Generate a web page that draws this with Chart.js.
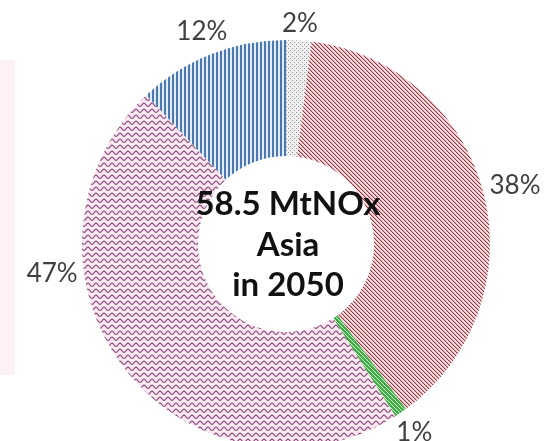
<!DOCTYPE html>
<html>
<head>
<meta charset="utf-8">
<script src="https://cdn.jsdelivr.net/npm/chart.js@4.4.0/dist/chart.umd.min.js"></script>
<style>
  html, body { margin: 0; padding: 0; background: #fff; overflow: hidden; }
  #wrap { position: relative; width: 548px; height: 441px; }
</style>
</head>
<body>
<div id="wrap"><canvas id="myChart" width="548" height="441"></canvas></div>
<script>
(() => {
  'use strict'

  // NOx emission shares, clockwise from 12 o'clock
  const sectors = ['Sector 1', 'Sector 2', 'Sector 3', 'Sector 4', 'Sector 5']
  const shares = [2, 38, 1, 47, 12]
  const centerLines = ['58.5 MtNOx', 'Asia', 'in 2050']

  const canvas = document.getElementById('myChart')
  const ctx = canvas.getContext('2d')

  // small repeating tiles used as hatch fills
  function tile(w, h, draw) {
    const c = document.createElement('canvas')
    c.width = w
    c.height = h
    draw(c.getContext('2d'), w, h)
    return ctx.createPattern(c, 'repeat')
  }

  const dots = tile(4, 4, (g) => {
    g.fillStyle = '#f1f1f1'
    g.fillRect(0, 0, 4, 4)
    g.fillStyle = '#8f8f8f'
    g.fillRect(0, 0, 1, 1)
    g.fillRect(2, 2, 1, 1)
  })

  const redHatch = tile(4, 4, (g) => {
    g.fillStyle = '#f9e0e0'
    g.fillRect(0, 0, 4, 4)
    for (let i = 0; i < 4; i++) {
      g.fillStyle = '#9b2f42'
      g.fillRect(i, i, 1, 1)
      g.fillStyle = '#e0a9ae'
      g.fillRect((i + 1) % 4, i, 1, 1)
    }
  })

  const greenHatch = tile(4, 4, (g) => {
    g.fillStyle = '#d8efd8'
    g.fillRect(0, 0, 4, 4)
    g.fillStyle = '#3fae44'
    for (let i = 0; i < 4; i++) {
      g.fillRect(i, i, 1, 1)
      g.fillRect((i + 1) % 4, i, 1, 1)
      g.fillRect((i + 2) % 4, i, 1, 1)
    }
  })

  const purpleWave = tile(8, 6, (g) => {
    g.fillStyle = '#fbe9f2'
    g.fillRect(0, 0, 8, 6)
    g.strokeStyle = '#8c4a7e'
    g.lineWidth = 1.2
    g.beginPath()
    for (let x = -1; x <= 9; x += 0.5) {
      const y = 2.8 - 1.6 * Math.cos((x / 8) * Math.PI * 2)
      if (x === -1) g.moveTo(x, y)
      else g.lineTo(x, y)
    }
    g.stroke()
  })

  const blueStripes = tile(4, 1, (g) => {
    g.fillStyle = '#e2ebf6'
    g.fillRect(0, 0, 4, 1)
    g.fillStyle = '#4a78b2'
    g.fillRect(0, 0, 2, 1)
  })

  // faint pink strip along the left edge
  const sideStrip = {
    id: 'sideStrip',
    beforeDraw(chart) {
      const c = chart.ctx
      c.save()
      c.fillStyle = '#fdf1f4'
      c.fillRect(0, 60, 15, 315)
      c.restore()
    }
  }

  // percentage labels outside the ring
  const pctLabels = {
    id: 'pctLabels',
    afterDatasetsDraw(chart, args, opts) {
      const c = chart.ctx
      const meta = chart.getDatasetMeta(0)
      c.save()
      c.font = '26px Lato'
      c.fillStyle = '#404040'
      c.textAlign = 'center'
      c.textBaseline = 'middle'
      meta.data.forEach((arc, i) => {
        const p = arc.getProps(['x', 'y', 'startAngle', 'endAngle', 'outerRadius'], true)
        const text = shares[i] + '%'
        const a = (p.startAngle + p.endAngle) / 2 + (opts.nudge[i] || 0)
        const hw = c.measureText(text).width / 2
        const r = p.outerRadius + opts.pad + Math.abs(Math.cos(a)) * hw + Math.abs(Math.sin(a)) * 11
        c.fillText(text, p.x + Math.cos(a) * r, p.y + Math.sin(a) * r)
      })
      c.restore()
    }
  }

  // total in the hole
  const centerText = {
    id: 'centerText',
    afterDatasetsDraw(chart) {
      const c = chart.ctx
      const arc = chart.getDatasetMeta(0).data[0]
      c.save()
      c.font = 'bold 33px Lato'
      c.fillStyle = '#111'
      c.textAlign = 'center'
      c.textBaseline = 'alphabetic'
      centerLines.forEach((line, i) => {
        c.fillText(line, arc.x + 2, arc.y - 29 + i * 40.5)
      })
      c.restore()
    }
  }

  // eslint-disable-next-line no-unused-vars
  const myChart = new Chart(canvas, {
    type: 'doughnut',
    data: {
      labels: sectors,
      datasets: [{
        data: shares,
        backgroundColor: [dots, redHatch, greenHatch, purpleWave, blueStripes],
        borderWidth: 0,
        hoverOffset: 0,
        clip: false
      }]
    },
    options: {
      responsive: false,
      animation: false,
      events: [],
      radius: 204,
      cutout: 85,
      rotation: 0,
      layout: {
        padding: { top: 47, bottom: 0, left: 82, right: 58 }
      },
      plugins: {
        legend: { display: false },
        tooltip: { enabled: false },
        pctLabels: { pad: 5, nudge: { 3: 0.535 } }
      }
    },
    plugins: [sideStrip, pctLabels, centerText]
  })
})()
</script>
</body>
</html>
